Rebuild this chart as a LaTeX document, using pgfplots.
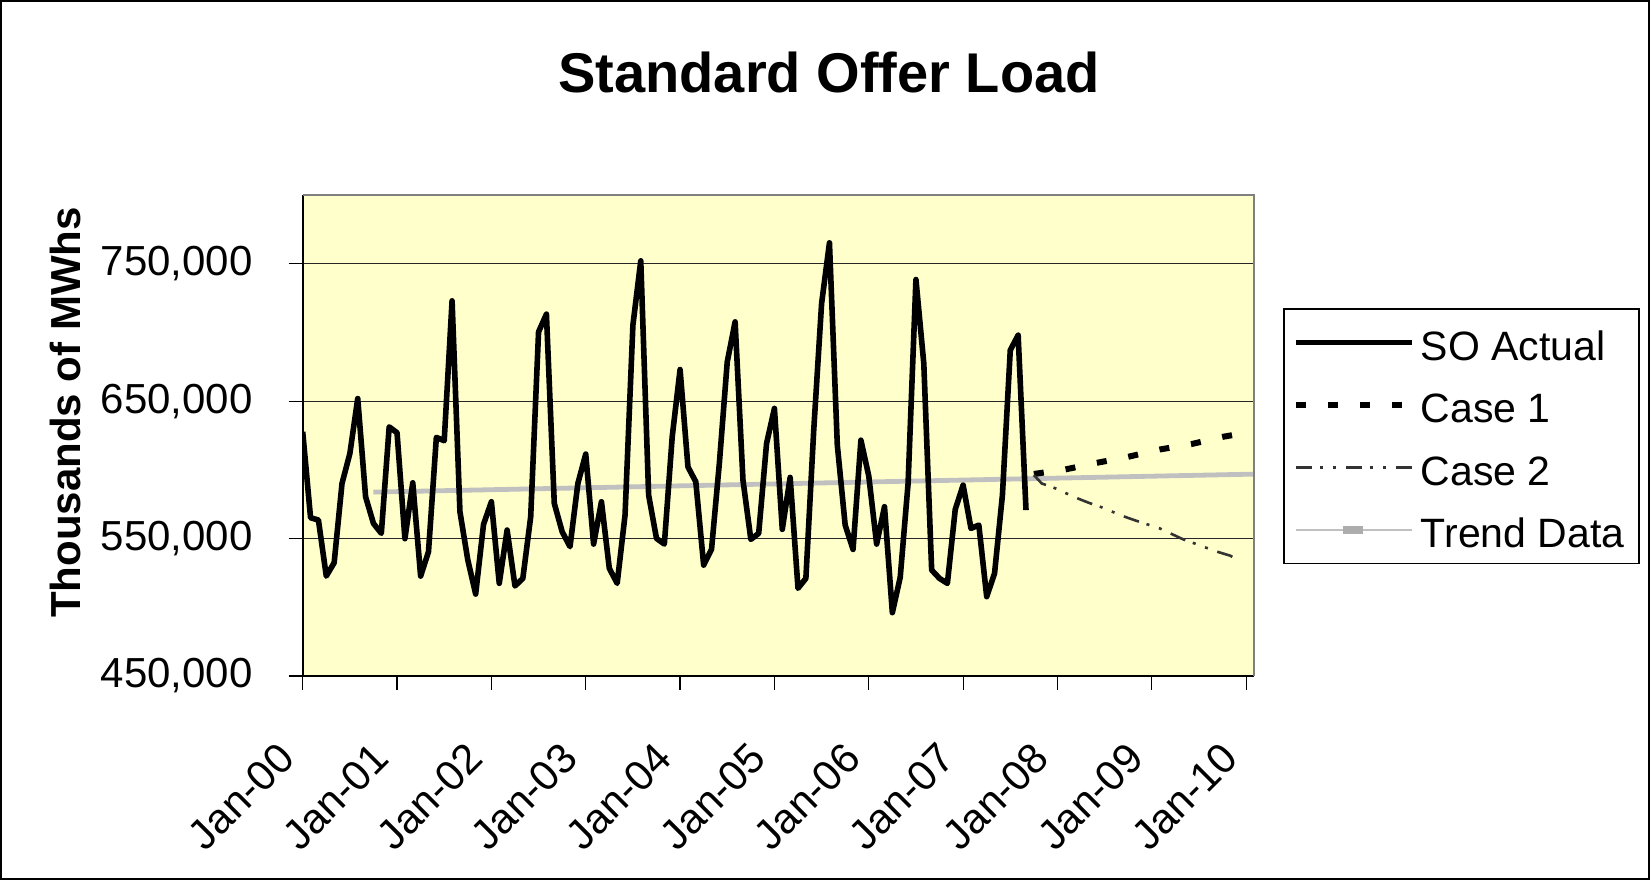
\documentclass[border=0pt]{standalone}
\usepackage{fontspec}
\setmainfont{Liberation Sans}
\usepackage{pgfplots}
\pgfplotsset{compat=1.18}
\definecolor{plotbg}{RGB}{255,255,204}
\definecolor{trendgray}{RGB}{192,192,192}
\definecolor{casetwo}{RGB}{51,51,51}
\definecolor{framegray}{RGB}{128,128,128}
\begin{document}
\begin{tikzpicture}
\useasboundingbox (0,0) rectangle (825bp,440bp);
\draw[line width=1.2bp] (0.6bp,0.6bp) rectangle (824.4bp,439.4bp);
\begin{axis}[
  name=ax,
  at={(151.35bp,102bp)}, anchor=south west,
  scale only axis, width=475.65bp, height=240.5bp,
  xmin=0, xmax=121, ymin=450000, ymax=800000,
  scaled y ticks=false,
  axis x line*=bottom, axis y line*=left,
  axis line style={-, line width=0.8bp, black},
  axis background/.style={fill=plotbg},
  xtick={0,12,...,120},
  xticklabels={Jan-00,Jan-01,Jan-02,Jan-03,Jan-04,Jan-05,Jan-06,Jan-07,Jan-08,Jan-09,Jan-10},
  ytick={450000,550000,650000,750000},
  yticklabels={{450,000},{550,000},{650,000},{750,000}},
  tick align=outside, major tick length=7bp,
  tick style={line width=0.6bp, black},
  ymajorgrids, grid style={line width=0.5bp, black!85},
  ticklabel style={font=\fontsize{21bp}{24bp}\selectfont},
  yticklabel style={anchor=east, inner sep=0pt, xshift=-17.85bp},
  xticklabel style={xshift=-13.35bp, yshift=-25bp, rotate=45, anchor=north east, inner sep=0pt},
  legend image code/.code={\draw[#1] (0bp,0bp) -- (58bp,0bp);},
  legend cell align=left,
  legend style={at={(1.0308,0.7645)}, anchor=north west, draw=black, line width=0.8bp, fill=white,
    inner xsep=4.35bp, inner ysep=3.7bp, row sep=5.25bp,
    font=\fontsize{20.5bp}{24bp}\selectfont,
    nodes={inner xsep=3bp, inner ysep=3bp, text height=19bp, text depth=1bp}},
]
\addplot[trendgray, line width=2.4bp, forget plot] table {
x y
9 583800
121 596900
};
\addplot[black, line width=2.8bp, line join=round] table {
x y
0 627700
1 565150
2 563500
3 522700
4 532400
5 590100
6 611900
7 651900
8 580400
9 561000
10 553800
11 631300
12 627000
13 549900
14 590600
15 522700
16 540400
17 623600
18 621200
19 723000
20 569500
21 534400
22 509600
23 560300
24 576800
25 517400
26 556200
27 515500
28 521000
29 565900
30 700400
31 713300
32 575600
33 555000
34 544100
35 590100
36 611500
37 546000
38 576800
39 528300
40 517400
41 567100
42 705300
43 752100
44 581600
45 550100
46 546000
47 624100
48 673000
49 602200
50 591300
51 530700
52 542100
53 605000
54 678600
55 707700
56 592500
57 549400
58 553800
59 619200
60 644700
61 556700
62 594500
63 513800
64 521000
65 628900
66 721000
67 765200
68 618000
69 559800
70 542100
71 621600
72 595500
73 546000
74 573200
75 496100
76 521800
77 590000
78 738500
79 677400
80 527100
81 521000
82 517400
83 571200
84 588900
85 557400
86 559800
87 507700
88 524700
89 581600
90 687100
91 698000
92 570700
};
\addlegendentry{SO Actual}
\addplot[black, line width=3bp, dash pattern=on 5bp off 11bp] table {
x y
93 597000
97 600300
101 605100
105 609500
109 614800
113 618700
117 624000
119 626000
};
\addlegendentry{Case 1}
\addplot[casetwo, line width=1.3bp, dash pattern=on 8bp off 4bp on 1.5bp off 5bp on 1.5bp off 5bp] table {
x y
93 596200
94 590100
96 586000
98 580500
100 576000
102 572000
104 567000
106 563000
109 557400
112 549400
114 545300
116 541000
118 537500
119 534000
};
\addlegendentry{Case 2}
\addlegendimage{legend image code/.code={\draw[trendgray, line width=1.2bp] (0bp,0bp) -- (58bp,0bp); \fill[trendgray!90!black] (24bp,-1.4bp) rectangle (33bp,1.4bp);}}
\addlegendentry{Trend Data}
\end{axis}
\draw[framegray, line width=1.2bp] (ax.north west) -- (ax.north east) -- (ax.south east);
\node[font=\fontsize{28bp}{32bp}\selectfont\bfseries, anchor=base] at (414.5bp,393.7bp) {Standard Offer Load};
\node[rotate=90, anchor=base, font=\fontsize{21bp}{24bp}\selectfont\bfseries] at (40bp,233.75bp) {Thousands of MWhs};
\end{tikzpicture}
\end{document}
